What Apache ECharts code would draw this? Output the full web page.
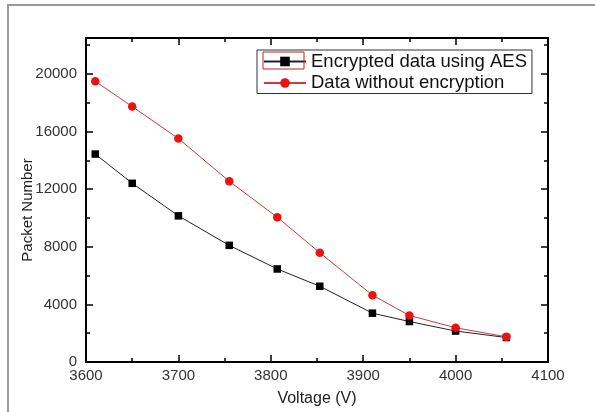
<!DOCTYPE html>
<html>
<head>
<meta charset="utf-8">
<script src="https://cdn.jsdelivr.net/npm/echarts@6/dist/echarts.min.js"></script>
<style>
html,body{margin:0;padding:0;background:#fff;}
#chart{width:595px;height:412px;}
</style>
</head>
<body>
<div id="chart"></div>
<script>
var voltage = [3610, 3650, 3700, 3755, 3807, 3853, 3910, 3950, 4000, 4055];
var encryptedAES = [14440, 12410, 10150, 8100, 6460, 5260, 3390, 2810, 2150, 1700];
var withoutEncryption = [19490, 17740, 15520, 12550, 10050, 7590, 4640, 3230, 2380, 1750];
var seriesNames = ['Encrypted data using AES', 'Data without encryption'];
var xTicks = [3600, 3700, 3800, 3900, 4000, 4100];
var yTicks = [0, 4000, 8000, 12000, 16000, 20000];

function pairs(xs, ys) { return xs.map(function (x, i) { return [x, ys[i]]; }); }
function plain(v) { return String(v); }

var FONT = 'Liberation Sans, Arial, sans-serif';
var chart = echarts.init(document.getElementById('chart'), null, {renderer: 'canvas'});

var xMin = xTicks[0], xMax = xTicks[xTicks.length - 1];
var yMin = yTicks[0], yMax = 22500;

function xAx(pos, show) {
  return {
    type: 'value', position: pos, min: xMin, max: xMax, interval: 100,
    axisLine: {show: true, onZero: false, lineStyle: {color: '#000', width: 2}},
    axisTick: {show: true, inside: true, length: 7, lineStyle: {color: '#000', width: 1.5}},
    minorTick: {show: true, splitNumber: 2, length: 4, lineStyle: {color: '#000', width: 1.5}},
    axisLabel: {show: show, margin: 6, color: '#333', fontSize: 15, fontFamily: FONT, formatter: plain},
    splitLine: {show: false},
    name: show ? 'Voltage (V)' : '', nameLocation: 'middle', nameGap: 29, nameMoveOverlap: false,
    nameTextStyle: {color: '#222', fontSize: 16, fontFamily: FONT}
  };
}
function yAx(pos, interval, len, show, line) {
  return {
    type: 'value', position: pos, min: yMin, max: yMax, interval: interval,
    axisLine: {show: line, onZero: false, lineStyle: {color: '#000', width: 2}},
    axisTick: {show: true, inside: true, length: len, lineStyle: {color: '#000', width: 1.5}},
    axisLabel: {show: show, margin: 9, color: '#333', fontSize: 15, fontFamily: FONT, showMaxLabel: false, formatter: plain},
    splitLine: {show: false},
    name: show ? 'Packet Number' : '', nameLocation: 'middle', nameGap: 51, nameMoveOverlap: false,
    nameTextStyle: {color: '#222', fontSize: 15, fontFamily: FONT, padding: [0, 20, 0, 0]}
  };
}

chart.setOption({
  backgroundColor: '#fff',
  animation: false,
  grid: {left: 86, right: 47, top: 38, bottom: 49, containLabel: false},
  xAxis: [xAx('bottom', true), xAx('top', false)],
  yAxis: [
    yAx('left', 4000, 7, true, true),
    yAx('right', 4000, 7, false, true),
    yAx('left', 2000, 4, false, false),
    yAx('right', 2000, 4, false, false)
  ],
  legend: {
    show: true,
    orient: 'vertical',
    left: 257, top: 50,
    padding: [2, 5, 1, 6],
    itemGap: 2.5,
    itemWidth: 42, itemHeight: 12,
    borderColor: '#333', borderWidth: 1,
    backgroundColor: '#fff',
    textStyle: {color: '#111', fontSize: 18.5, fontFamily: FONT},
    data: seriesNames
  },
  series: [
    {
      name: seriesNames[0], type: 'line', xAxisIndex: 0, yAxisIndex: 0,
      data: pairs(voltage, encryptedAES),
      symbol: 'rect', symbolSize: 7.5,
      lineStyle: {color: '#222', width: 1},
      itemStyle: {color: '#000'},
      z: 3
    },
    {
      name: seriesNames[1], type: 'line', xAxisIndex: 0, yAxisIndex: 0,
      data: pairs(voltage, withoutEncryption),
      symbol: 'circle', symbolSize: 8.5,
      lineStyle: {color: '#c83c3c', width: 1},
      itemStyle: {color: '#ee1111'},
      z: 4
    }
  ],
  graphic: [
    {type: 'rect', shape: {x: 8, y: 5, width: 600, height: 420}, style: {fill: 'none', stroke: '#999', lineWidth: 2}, z: 100},
    {type: 'rect', shape: {x: 263, y: 52, width: 41, height: 17}, style: {fill: 'none', stroke: '#b22', lineWidth: 1}, z: 100}
  ]
});
</script>
</body>
</html>
